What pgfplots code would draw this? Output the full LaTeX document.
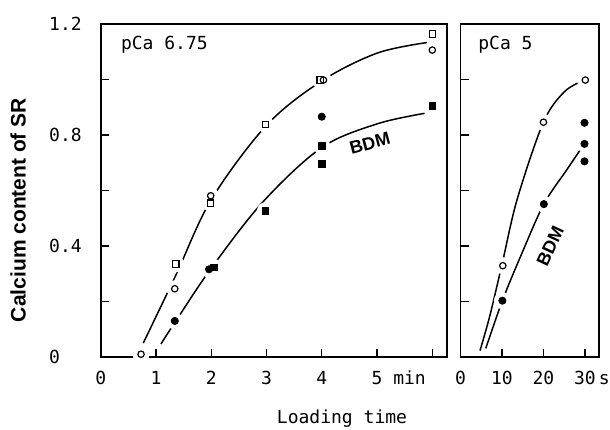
\documentclass[border=0pt]{standalone}
\usepackage{fontspec}
\setmainfont{DejaVu Sans Mono}
\newfontfamily\labfont{Liberation Sans}
\usepackage{pgfplots}
\pgfplotsset{compat=1.18}

\pgfplotsset{
  panel/.style={
    scale only axis, anchor=south west, clip=false,
    height=166.5pt, ymin=0, ymax=1.2,
    axis line style={line width=0.9pt},
    tick align=inside, xtick pos=left, ytick pos=left,
    major tick length=4pt, tick style={line width=0.7pt, black},
    ytick={0,0.2,0.4,0.6,0.8,1.0,1.2},
    tick label style={font=\fontsize{9}{10}\selectfont},
    xticklabel style={yshift=-3.5pt},
  },
  curve/.style={black, line width=0.75pt, smooth, tension=0.55, no marks},
  halo/.style={only marks, mark=*, white, mark size=4pt},
}

\begin{document}
\begin{tikzpicture}
\path[use as bounding box] (0,0) rectangle (305pt,214.5pt);

% minutes
\begin{axis}[panel, at={(50.35pt,36pt)}, width=173pt,
  xmin=0, xmax=6.26,
  xtick={0,1,2,3,4,5,6}, xticklabels={0,1,2,3,4,{5\rlap{ min}},},
  yticklabels={0,,0.4,,0.8,,1.2},
  yticklabel style={anchor=west, xshift=-29.3pt}]
\addplot[curve] coordinates {(0.77,0.05) (1.36,0.295) (2.0,0.567) (3.0,0.835) (4.0,0.995) (5.0,1.095) (5.9,1.133)};
\addplot[curve] coordinates {(1.09,0.047) (1.36,0.13) (2.0,0.32) (2.94,0.56) (4.0,0.755) (5.0,0.84) (5.86,0.878)};
\addplot[halo] coordinates {(0.73,0.01) (1.34,0.246) (1.99,0.581) (4.03,0.998) (6.0,1.106)};
\addplot[halo] coordinates {(1.36,0.335) (1.99,0.554) (2.98,0.838) (3.97,0.998) (6.0,1.164)};
\addplot[halo] coordinates {(1.34,0.130) (1.96,0.316) (4.0,0.866)};
\addplot[halo] coordinates {(2.05,0.323) (2.98,0.527) (4.0,0.760) (4.0,0.695) (6.0,0.905)};
\addplot[only marks, mark=o, black, mark size=1.6pt, line width=0.6pt] coordinates {(0.73,0.01) (1.34,0.246) (1.99,0.581) (4.03,0.998) (6.0,1.106)};
\addplot[only marks, mark=square, black, mark size=1.6pt, line width=0.6pt] coordinates {(1.36,0.335) (1.99,0.554) (2.98,0.838) (3.97,0.998) (6.0,1.164)};
\addplot[only marks, mark=*, black, mark size=1.8pt] coordinates {(1.34,0.130) (1.96,0.316) (4.0,0.866)};
\addplot[only marks, mark=square*, black, mark size=1.7pt] coordinates {(2.05,0.323) (2.98,0.527) (4.0,0.760) (4.0,0.695) (6.0,0.905)};
\node[anchor=west, font=\fontsize{9}{10}\selectfont] at (axis cs:0.24,1.124) {pCa 6.75};
\node[rotate=15, font=\labfont\bfseries\fontsize{9}{10}\selectfont] at (axis cs:4.87,0.77) {BDM};
\end{axis}

% seconds
\begin{axis}[panel, at={(230.25pt,36pt)}, width=69.25pt,
  xmin=0, xmax=33.4,
  xtick={0,10,20,30}, xticklabels={0,10,20,{30\rlap{\kern1.6pt s}}},
  yticklabels={}]
\addplot[curve] coordinates {(4.7,0.023) (7.1,0.15) (10.1,0.34) (13.7,0.57) (20.0,0.846) (25,0.955) (29.5,0.995)};
\addplot[curve] coordinates {(6.1,0.031) (10.1,0.203) (14.7,0.37) (20.1,0.551) (25.6,0.674) (29.4,0.758)};
\addplot[halo] coordinates {(10.2,0.329) (20.0,0.846) (30.1,0.998)};
\addplot[halo] coordinates {(10.1,0.203) (20.1,0.551) (29.9,0.844) (29.9,0.768) (29.9,0.705)};
\addplot[only marks, mark=o, black, mark size=1.6pt, line width=0.6pt] coordinates {(10.2,0.329) (20.0,0.846) (30.1,0.998)};
\addplot[only marks, mark=*, black, mark size=1.8pt] coordinates {(10.1,0.203) (20.1,0.551) (29.9,0.844) (29.9,0.768) (29.9,0.705)};
\node[anchor=west, font=\fontsize{9}{10}\selectfont] at (axis cs:2.6,1.124) {pCa 5};
\node[rotate=65, font=\labfont\bfseries\fontsize{9}{10}\selectfont] at (axis cs:21.6,0.40) {BDM};
\end{axis}

\node[rotate=90, font=\labfont\bfseries\fontsize{10.5}{12}\selectfont] at (9pt,109.5pt) {Calcium content of SR};
\node[font=\fontsize{9}{10}\selectfont] at (171pt,5pt) {Loading time};
\end{tikzpicture}
\end{document}
